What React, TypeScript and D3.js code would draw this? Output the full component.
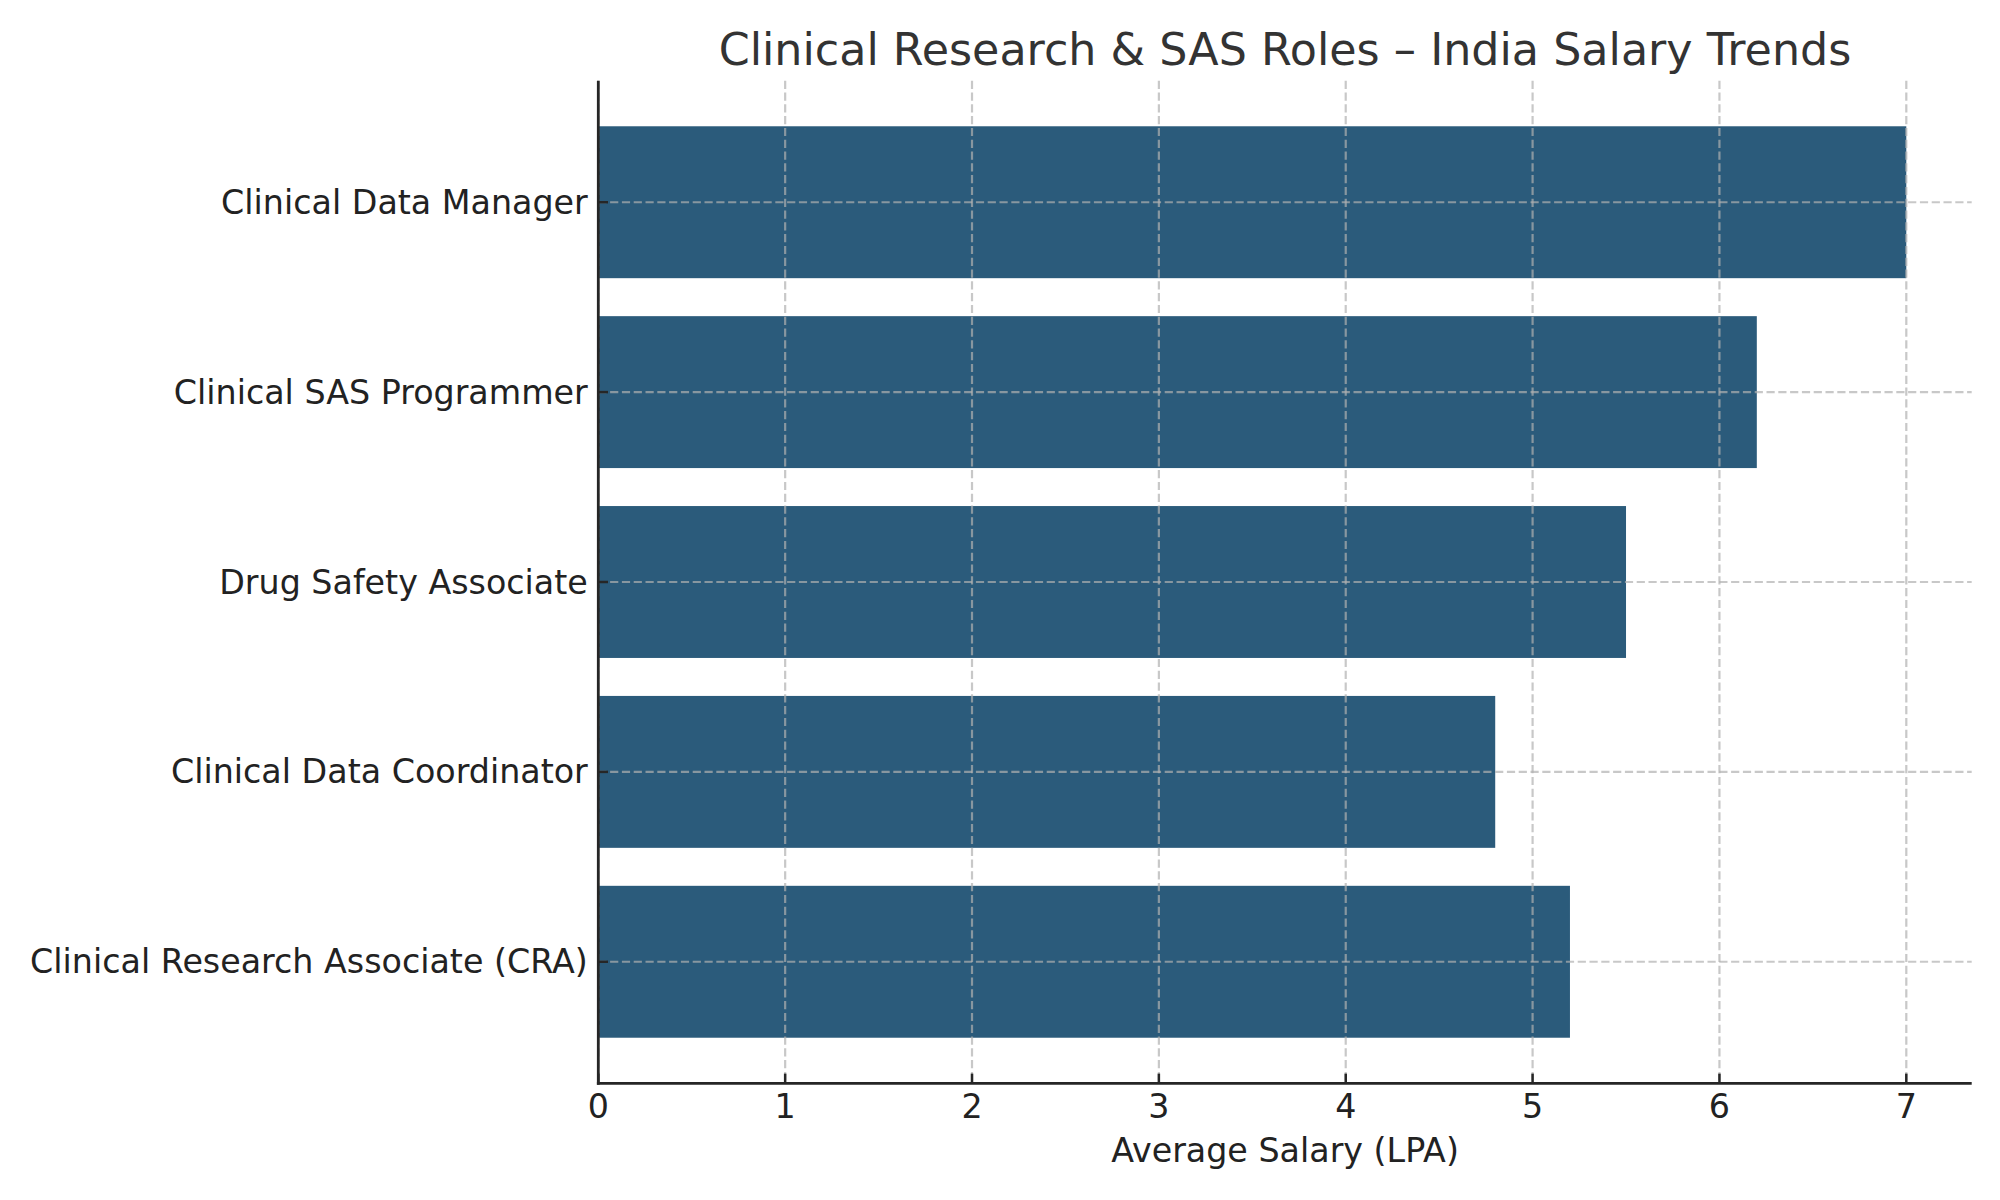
import React, {useEffect} from 'react';
import * as d3 from 'd3';

// roles listed top to bottom, as drawn
const roles: string[] = [
  'Clinical Data Manager',
  'Clinical SAS Programmer',
  'Drug Safety Associate',
  'Clinical Data Coordinator',
  'Clinical Research Associate (CRA)',
];
const salaries: number[] = [7.0, 6.2, 5.5, 4.8, 5.2];
const xTicks: number[] = [0, 1, 2, 3, 4, 5, 6, 7];

const title = 'Clinical Research & SAS Roles – India Salary Trends';
const xLabel = 'Average Salary (LPA)';

const W = 2000;
const H = 1200;
const margin = {top: 80.7, right: 28.3, bottom: 116.7, left: 598.3};
const font = 'DejaVu Sans, sans-serif';
const barColor = '#2b5b7b';
const axisColor = '#262626';

const App = () => {
  useEffect(() => {
    document.body.style.margin = '0';
  }, []);

  const x = d3.scaleLinear()
    .domain([0, 7.35])
    .range([margin.left, W - margin.right]);

  const y = d3.scaleBand<string>()
    .domain(roles)
    .range([margin.top, H - margin.bottom])
    .paddingInner(0.2)
    .paddingOuter(0.24);

  const x0 = margin.left;
  const x1 = W - margin.right;
  const y0 = margin.top;
  const y1 = H - margin.bottom;
  const half = y.bandwidth() / 2;

  return (
    <svg width={W} height={H} style={{display: 'block', background: '#fff'}} fontFamily={font}>
      {roles.map((r, i) => (
        <rect key={r} x={x(0)} y={y(r)} width={x(salaries[i]) - x(0)} height={y.bandwidth()} fill={barColor}/>
      ))}

      {/* grid over the bars */}
      <g stroke="#b0b0b0" strokeOpacity={0.7} strokeWidth={2.2} strokeDasharray="8.2,3.6" fill="none">
        {xTicks.map(t => (
          <line key={'gx' + t} x1={x(t)} x2={x(t)} y1={y0} y2={y1}/>
        ))}
        {roles.map(r => (
          <line key={'gy' + r} x1={x0} x2={x1} y1={(y(r) as number) + half} y2={(y(r) as number) + half}/>
        ))}
      </g>

      {/* ticks, pointing in */}
      <g stroke={axisColor} strokeWidth={2.5}>
        {xTicks.map(t => (
          <line key={'tx' + t} x1={x(t)} x2={x(t)} y1={y1} y2={y1 - 9.7}/>
        ))}
        {roles.map(r => (
          <line key={'ty' + r} x1={x0} x2={x0 + 9.7} y1={(y(r) as number) + half} y2={(y(r) as number) + half}/>
        ))}
      </g>

      {/* spines */}
      <g stroke={axisColor} strokeWidth={2.8} fill="none">
        <line x1={x0} x2={x0} y1={y0} y2={y1 + 1.4}/>
        <line x1={x0 - 1.4} x2={x1} y1={y1} y2={y1}/>
      </g>

      <g fill="#222" fontSize={33.3}>
        {xTicks.map(t => (
          <text key={'lx' + t} x={x(t)} y={1118} textAnchor="middle">{t}</text>
        ))}
        {roles.map(r => (
          <text key={'ly' + r} x={x0 - 10.5} y={(y(r) as number) + half} textAnchor="end" dominantBaseline="central">{r}</text>
        ))}
        <text x={(x0 + x1) / 2} y={1162} textAnchor="middle">{xLabel}</text>
      </g>

      <text x={(x0 + x1) / 2} y={65} textAnchor="middle" fontSize={44.4} fill="#333">{title}</text>
    </svg>
  );
};

export default App;
